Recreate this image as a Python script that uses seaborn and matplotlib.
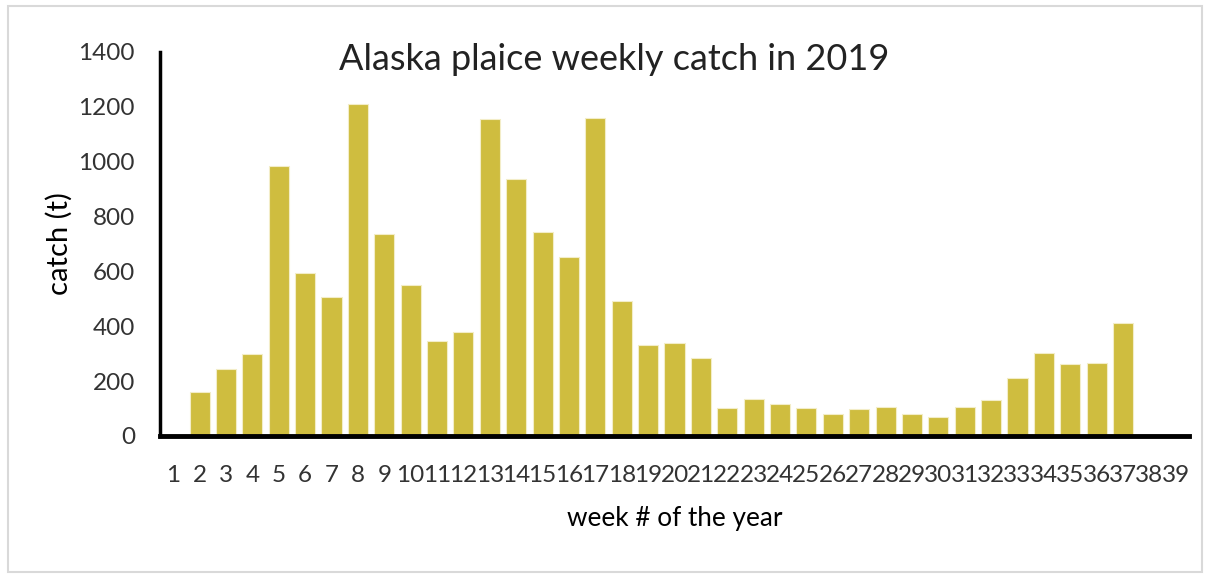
import matplotlib
matplotlib.use("Agg")
import matplotlib.pyplot as plt
import seaborn as sns
import pandas as pd

weeks = [str(w) for w in range(1, 40)]
catch = [0, 160, 244, 298, 985, 593, 505, 1211, 735, 549,
         345, 378, 1156, 938, 742, 651, 1160, 494, 331, 338,
         284, 101, 135, 116, 101, 80, 97, 104, 82, 69,
         107, 133, 210, 304, 261, 265, 413, 0, 0]
yticks = [0, 200, 400, 600, 800, 1000, 1200, 1400]

sns.set_theme(style="white")
plt.rcParams['font.family'] = ['Lato', 'DejaVu Sans']

df = pd.DataFrame({"week": weeks, "catch": catch})

fig = plt.figure(figsize=(12.10, 5.77), dpi=100)
ax = fig.add_axes([160/1210, 1 - 436/577, 1029/1210, (436-52)/577])

sns.barplot(data=df, x="week", y="catch", order=weeks, color="#CFBD3F",
            saturation=1, width=0.76, edgecolor="#F3EDC8", linewidth=0.8, ax=ax)

ax.set_xlim(-0.5, 38.5)
ax.set_ylim(0, 1400)
ax.set_yticks(yticks)
ax.set_yticklabels([str(v) for v in yticks], fontsize=17.5, color="#333333")
ax.set_xticks(range(len(weeks)))
ax.set_xticklabels(weeks, fontsize=17.5, color="#333333")
ax.tick_params(axis="both", length=0)
ax.tick_params(axis="x", pad=21)
ax.tick_params(axis="y", pad=18)

for s in ["top", "right"]:
    ax.spines[s].set_visible(False)
ax.spines["left"].set_color("black")
ax.spines["left"].set_linewidth(2.5)
ax.spines["bottom"].set_color("black")
ax.spines["bottom"].set_linewidth(3.5)

ax.set_xlabel("week # of the year", fontsize=18.8, color="black", labelpad=14)
ax.set_ylabel("catch (t)", fontsize=21, color="black", labelpad=4)

fig.text(614/1210, 1 - 60/577, "Alaska plaice weekly catch in 2019",
         ha="center", va="center", fontsize=26, color="#222222")

border = plt.Rectangle((8/1210, 5/577), 1194/1210, 566/577, transform=fig.transFigure,
                       fill=False, edgecolor="#D9D9D9", linewidth=1.5)
fig.patches.append(border)

fig.savefig("out.png", dpi=100)
